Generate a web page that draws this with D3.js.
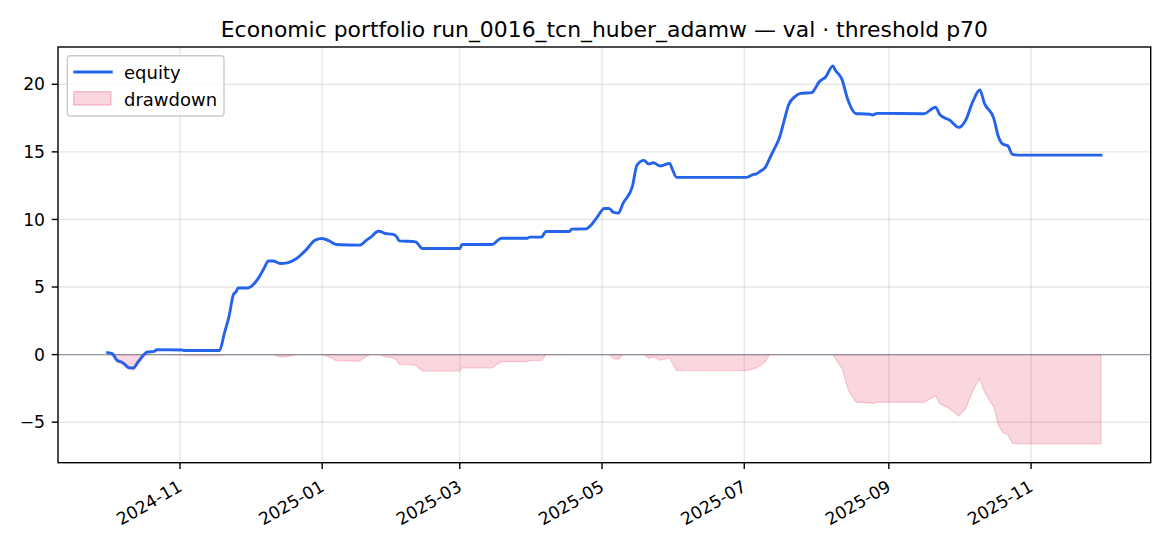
<!DOCTYPE html>
<html>
<head>
<meta charset="utf-8">
<script src="https://cdn.jsdelivr.net/npm/d3@7"></script>
<style>
  html, body { margin: 0; padding: 0; background: #fff; }
  svg { display: block; }
  text { font-family: "DejaVu Sans", sans-serif; fill: #000; }
</style>
</head>
<body>
<svg id="chart" width="1170" height="546"></svg>
<script>
const titleText = "Economic portfolio run_0016_tcn_huber_adamw — val · threshold p70";

const dates = [
  "2024-10-01","2024-10-03","2024-10-05","2024-10-07","2024-10-08","2024-10-10","2024-10-12","2024-10-14",
  "2024-10-17","2024-10-18","2024-10-21","2024-10-22","2024-11-02","2024-11-03","2024-11-18","2024-11-20",
  "2024-11-22","2024-11-24","2024-11-25","2024-11-26","2024-11-30","2024-12-05","2024-12-07","2024-12-09",
  "2024-12-11","2024-12-14","2024-12-17","2024-12-21","2024-12-25","2024-12-29","2025-01-01","2025-01-04",
  "2025-01-07","2025-01-17","2025-01-20","2025-01-22","2025-01-25","2025-01-26","2025-01-28","2025-01-31",
  "2025-02-02","2025-02-03","2025-02-06","2025-02-10","2025-02-13","2025-03-01","2025-03-02","2025-03-15",
  "2025-03-17","2025-03-19","2025-03-30","2025-03-31","2025-04-05","2025-04-07","2025-04-17","2025-04-18",
  "2025-04-24","2025-04-26","2025-04-29","2025-05-02","2025-05-04","2025-05-06","2025-05-08","2025-05-10",
  "2025-05-14","2025-05-16","2025-05-19","2025-05-21","2025-05-23","2025-05-26","2025-05-30","2025-05-31",
  "2025-06-02","2025-07-02","2025-07-05","2025-07-06","2025-07-08","2025-07-10","2025-07-12","2025-07-14",
  "2025-07-16","2025-07-18","2025-07-20","2025-07-23","2025-07-25","2025-07-30","2025-07-31","2025-08-02",
  "2025-08-05","2025-08-08","2025-08-09","2025-08-12","2025-08-14","2025-08-15","2025-08-18","2025-08-20",
  "2025-08-24","2025-08-25","2025-08-27","2025-09-16","2025-09-21","2025-09-23","2025-09-27","2025-10-01",
  "2025-10-04","2025-10-07","2025-10-10","2025-10-12","2025-10-16","2025-10-18","2025-10-20","2025-10-22",
  "2025-10-24","2025-10-27","2025-12-01"
];

const equity = [
  0.15, 0.07, -0.42, -0.55, -0.67, -0.96, -0.99, -0.55,
  0.07, 0.19, 0.24, 0.37, 0.34, 0.30, 0.30, 1.55,
  2.79, 4.47, 4.64, 4.93, 4.93, 5.75, 6.37, 6.93,
  6.93, 6.74, 6.79, 7.11, 7.73, 8.47, 8.59, 8.41,
  8.15, 8.10, 8.47, 8.71, 9.13, 9.11, 8.96, 8.91,
  8.71, 8.41, 8.39, 8.34, 7.85, 7.85, 8.15, 8.15,
  8.41, 8.61, 8.61, 8.69, 8.69, 9.11, 9.11, 9.28,
  9.30, 9.53, 10.19, 10.81, 10.81, 10.52, 10.47, 11.19,
  12.42, 14.02, 14.37, 14.10, 14.19, 13.95, 14.15, 13.78,
  13.11, 13.11, 13.33, 13.36, 13.58, 13.85, 14.56, 15.26,
  16.00, 17.23, 18.47, 19.13, 19.33, 19.38, 19.58, 20.15,
  20.56, 21.36, 21.06, 20.32, 19.08, 18.59, 17.82, 17.82,
  17.78, 17.73, 17.85, 17.82, 18.30, 17.73, 17.36, 16.81,
  17.36, 18.71, 19.58, 18.59, 17.48, 16.12, 15.56, 15.45,
  14.81, 14.76, 14.76
];

const drawdown = [
  0.00, -0.08, -0.57, -0.70, -0.82, -1.11, -1.14, -0.70,
  -0.08, 0.00, 0.00, 0.00, -0.03, -0.07, -0.07, 0.00,
  0.00, 0.00, 0.00, 0.00, 0.00, 0.00, 0.00, 0.00,
  0.00, -0.19, -0.14, 0.00, 0.00, 0.00, 0.00, -0.18,
  -0.44, -0.49, -0.12, 0.00, 0.00, -0.02, -0.17, -0.22,
  -0.42, -0.72, -0.74, -0.79, -1.22, -1.22, -0.98, -0.98,
  -0.72, -0.52, -0.52, -0.44, -0.44, -0.02, -0.02, 0.00,
  0.00, 0.00, 0.00, 0.00, 0.00, -0.29, -0.34, 0.00,
  0.00, 0.00, 0.00, -0.27, -0.18, -0.42, -0.22, -0.59,
  -1.18, -1.18, -1.04, -1.01, -0.79, -0.52, 0.00, 0.00,
  0.00, 0.00, 0.00, 0.00, 0.00, 0.00, 0.00, 0.00,
  0.00, 0.00, -0.30, -1.04, -2.28, -2.77, -3.54, -3.54,
  -3.58, -3.63, -3.51, -3.54, -3.06, -3.63, -4.00, -4.55,
  -4.00, -2.65, -1.78, -2.77, -3.88, -5.24, -5.80, -5.91,
  -6.55, -6.60, -6.60
];

const xTickLabels = ["2024-11","2025-01","2025-03","2025-05","2025-07","2025-09","2025-11"];
const yTickValues = [-5, 0, 5, 10, 15, 20];
const seriesNames = ["equity", "drawdown"];

// ---- layout ----
const W = 1170, H = 546;
const margin = { left: 58, right: 1170 - 1150.7, top: 47, bottom: 546 - 462.7 };
const parse = d3.timeParse("%Y-%m-%d");
const pts = dates.map((d, i) => ({ date: parse(d), eq: equity[i], dd: drawdown[i] }));

const svg = d3.select("#chart");

// x domain with 5% margins
const xExt = d3.extent(pts, d => d.date);
const xSpan = xExt[1] - xExt[0];
const x = d3.scaleTime()
  .domain([new Date(+xExt[0] - 0.05 * xSpan), new Date(+xExt[1] + 0.05 * xSpan)])
  .range([margin.left, W - margin.right]);

const yMin = d3.min(pts, d => Math.min(d.eq, d.dd));
const yMax = d3.max(pts, d => Math.max(d.eq, d.dd));
const ySpan = yMax - yMin;
const y = d3.scaleLinear()
  .domain([yMin - 0.05 * ySpan, yMax + 0.05 * ySpan])
  .range([H - margin.bottom, margin.top]);

const x0 = margin.left, x1 = W - margin.right, y0 = margin.top, y1 = H - margin.bottom;
const xTicks = xTickLabels.map(s => d3.timeParse("%Y-%m")(s));
const FS = "18px";
const TFS = "17.2px";

// ---- grid ----
const grid = svg.append("g");
grid.selectAll("line.gx").data(xTicks).enter().append("line")
  .attr("x1", d => x(d)).attr("x2", d => x(d)).attr("y1", y0).attr("y2", y1)
  .attr("stroke", "#b0b0b0").attr("stroke-opacity", 0.3).attr("stroke-width", 1.4);
grid.selectAll("line.gy").data(yTickValues).enter().append("line")
  .attr("x1", x0).attr("x2", x1).attr("y1", d => y(d)).attr("y2", d => y(d))
  .attr("stroke", "#b0b0b0").attr("stroke-opacity", 0.3).attr("stroke-width", 1.4);

// ---- drawdown fill ----
const area = d3.area().x(d => x(d.date)).y0(y(0)).y1(d => y(d.dd));
svg.append("path").datum(pts).attr("d", area)
  .attr("fill", "#e11d48").attr("fill-opacity", 0.18)
  .attr("stroke", "#e11d48").attr("stroke-opacity", 0.18).attr("stroke-width", 1.3);

// ---- zero line ----
svg.append("line")
  .attr("x1", x0).attr("x2", x1).attr("y1", y(0)).attr("y2", y(0))
  .attr("stroke", "#6b7a8c").attr("stroke-opacity", 0.7).attr("stroke-width", 1.3);

// ---- equity line ----
const line = d3.line().x(d => x(d.date)).y(d => y(d.eq)).curve(d3.curveMonotoneX);
svg.append("path").datum(pts).attr("d", line)
  .attr("fill", "none").attr("stroke", "#2563eb").attr("stroke-width", 2.9)
  .attr("stroke-linejoin", "round").attr("stroke-linecap", "square");

// ---- axes frame ----
svg.append("rect").attr("x", x0).attr("y", y0).attr("width", x1 - x0).attr("height", y1 - y0)
  .attr("fill", "none").attr("stroke", "#000").attr("stroke-width", 1.4);

// x ticks
const xt = svg.append("g");
xt.selectAll("line").data(xTicks).enter().append("line")
  .attr("x1", d => x(d)).attr("x2", d => x(d)).attr("y1", y1).attr("y2", y1 + 6.3)
  .attr("stroke", "#000").attr("stroke-width", 1.4);
xt.selectAll("text").data(xTicks).enter().append("text")
  .attr("transform", d => `translate(${x(d) - 3},${y1 + 16.5}) rotate(-30)`)
  .attr("text-anchor", "end").attr("dy", "0.72em")
  .style("font-size", TFS)
  .text((d, i) => xTickLabels[i]);

// y ticks
const yt = svg.append("g");
yt.selectAll("line").data(yTickValues).enter().append("line")
  .attr("x1", x0 - 6.3).attr("x2", x0).attr("y1", d => y(d)).attr("y2", d => y(d))
  .attr("stroke", "#000").attr("stroke-width", 1.4);
yt.selectAll("text").data(yTickValues).enter().append("text")
  .attr("x", x0 - 13).attr("y", d => y(d)).attr("dy", "0.36em")
  .attr("text-anchor", "end").style("font-size", TFS)
  .text(d => d < 0 ? "\u2212" + Math.abs(d) : String(d));

// ---- title ----
svg.append("text").attr("x", (x0 + x1) / 2).attr("y", 36.5)
  .attr("text-anchor", "middle").style("font-size", "21.9px").text(titleText);

// ---- legend ----
const lg = svg.append("g");
lg.append("rect").attr("x", 67.3).attr("y", 55.7).attr("width", 156.7).attr("height", 60.3)
  .attr("rx", 3).attr("fill", "#fff").attr("fill-opacity", 0.8)
  .attr("stroke", "#cccccc").attr("stroke-width", 1.4);
lg.append("line").attr("x1", 73.3).attr("x2", 112.7).attr("y1", 72).attr("y2", 72)
  .attr("stroke", "#2563eb").attr("stroke-width", 2.9);
lg.append("rect").attr("x", 73.7).attr("y", 91.7).attr("width", 37.3).attr("height", 13.3)
  .attr("fill", "#e11d48").attr("fill-opacity", 0.18)
  .attr("stroke", "#e11d48").attr("stroke-opacity", 0.25).attr("stroke-width", 1.3);
lg.selectAll("text.lt").data(seriesNames).enter().append("text")
  .attr("x", 124).attr("y", (d, i) => 78.5 + i * 27)
  .style("font-size", FS).text(d => d);
</script>
</body>
</html>
